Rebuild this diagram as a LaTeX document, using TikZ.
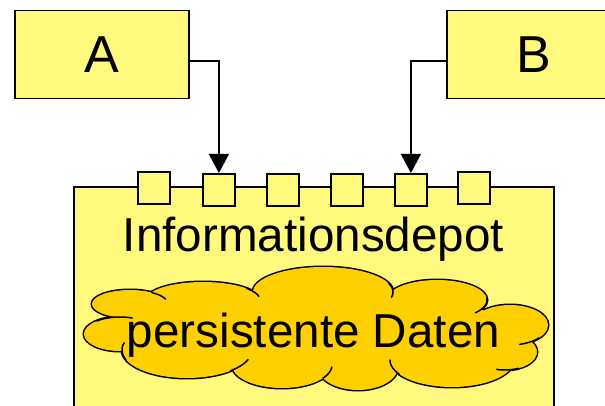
\documentclass[tikz,border=0pt]{standalone}
\usepackage{fontspec}
\setmainfont{Liberation Sans}
\usetikzlibrary{arrows.meta}
\definecolor{boxy}{RGB}{255,250,125}
\definecolor{cloudy}{RGB}{255,208,0}
\tikzset{
  box/.style={draw=black, line width=1.8pt, fill=boxy, inner sep=0pt},
  sq/.style={box, minimum width=32pt, minimum height=32pt, anchor=north west},
  conn/.style={line width=1.4pt, -{Triangle[width=20pt,length=19pt]}},
  big/.style={font=\fontsize{47.6}{57}\selectfont, inner sep=0pt},
  bigA/.style={font=\fontsize{52}{60}\selectfont},
  tail/.style={line width=1.5pt, line cap=round},
}
% arc of a cloud lobe: cx, rx, cy, ry, start angle, end angle
\newcommand\lobetail[6]{\draw[tail] plot[domain=#5:#6, samples=16, variable=\t, smooth] ({#1+#2*cos(\t)},{#3-#4*sin(\t)});}
\begin{document}
\begin{tikzpicture}[x=1pt,y=-1pt]
\useasboundingbox (0,0) rectangle (605,406);
\clip (0,0) rectangle (605,406);
\fill[white] (0,0) rectangle (605,406);
% top boxes
\node[box, bigA, minimum width=174pt, minimum height=88pt] (A) at (102,54.5) {A};
\node[box, bigA, minimum width=174pt, minimum height=88pt] (B) at (534,54.5) {B};
% depot
\node[box, minimum width=480pt, minimum height=250pt, anchor=north west] (depot) at (73,186) {};
\node[sq] (sq1) at (137,171) {};
\node[sq] (sq2) at (202,173) {};
\node[sq] (sq3) at (266,173) {};
\node[sq] (sq4) at (330,173) {};
\node[sq] (sq5) at (394,173) {};
\node[sq] (sq6) at (457,171) {};
\node[big, anchor=base] (lbl) at (313.5,251.7) {Informationsdepot};
% connectors
\draw[conn] ([yshift=-6.5pt]A.east) -| (sq2.north);
\draw[conn] ([yshift=-6.5pt]B.west) -| (sq5.north);
% cloud
\def\lobes{130/304/38/14, 120/334/36/17, 187/350/65/28, 282/365/50/23, 358/367/40/23,
  452/360/62/27, 505/352/32/18, 510/325/38/20, 437/300/50/20, 323/292/70/25,
  203/300/57/18, 315/328/190/38}
\foreach \cx/\cy/\rx/\ry in \lobes
  \draw[line width=3pt] (\cx,\cy) ellipse [x radius=\rx pt, y radius=\ry pt];
\foreach \cx/\cy/\rx/\ry in \lobes
  \fill[cloudy] (\cx,\cy) ellipse [x radius=\rx pt, y radius=\ry pt];
% inner puff tails
\lobetail{130}{38}{304}{14}{55}{20}
\lobetail{203}{57}{300}{18}{40}{12}
\lobetail{323}{70}{292}{25}{20}{-12}
\lobetail{437}{50}{300}{20}{5}{-40}
\lobetail{510}{38}{325}{20}{-40}{-75}
\lobetail{505}{32}{352}{18}{-65}{-105}
\lobetail{452}{62}{360}{27}{-148}{-180}
\lobetail{282}{50}{365}{23}{-35}{-5}
\lobetail{187}{65}{350}{28}{-48}{-20}
\lobetail{187}{65}{350}{28}{200}{165}
\lobetail{120}{36}{334}{17}{130}{70}
\node[big, anchor=base] (pd) at (313.5,347) {persistente Daten};
\end{tikzpicture}
\end{document}
